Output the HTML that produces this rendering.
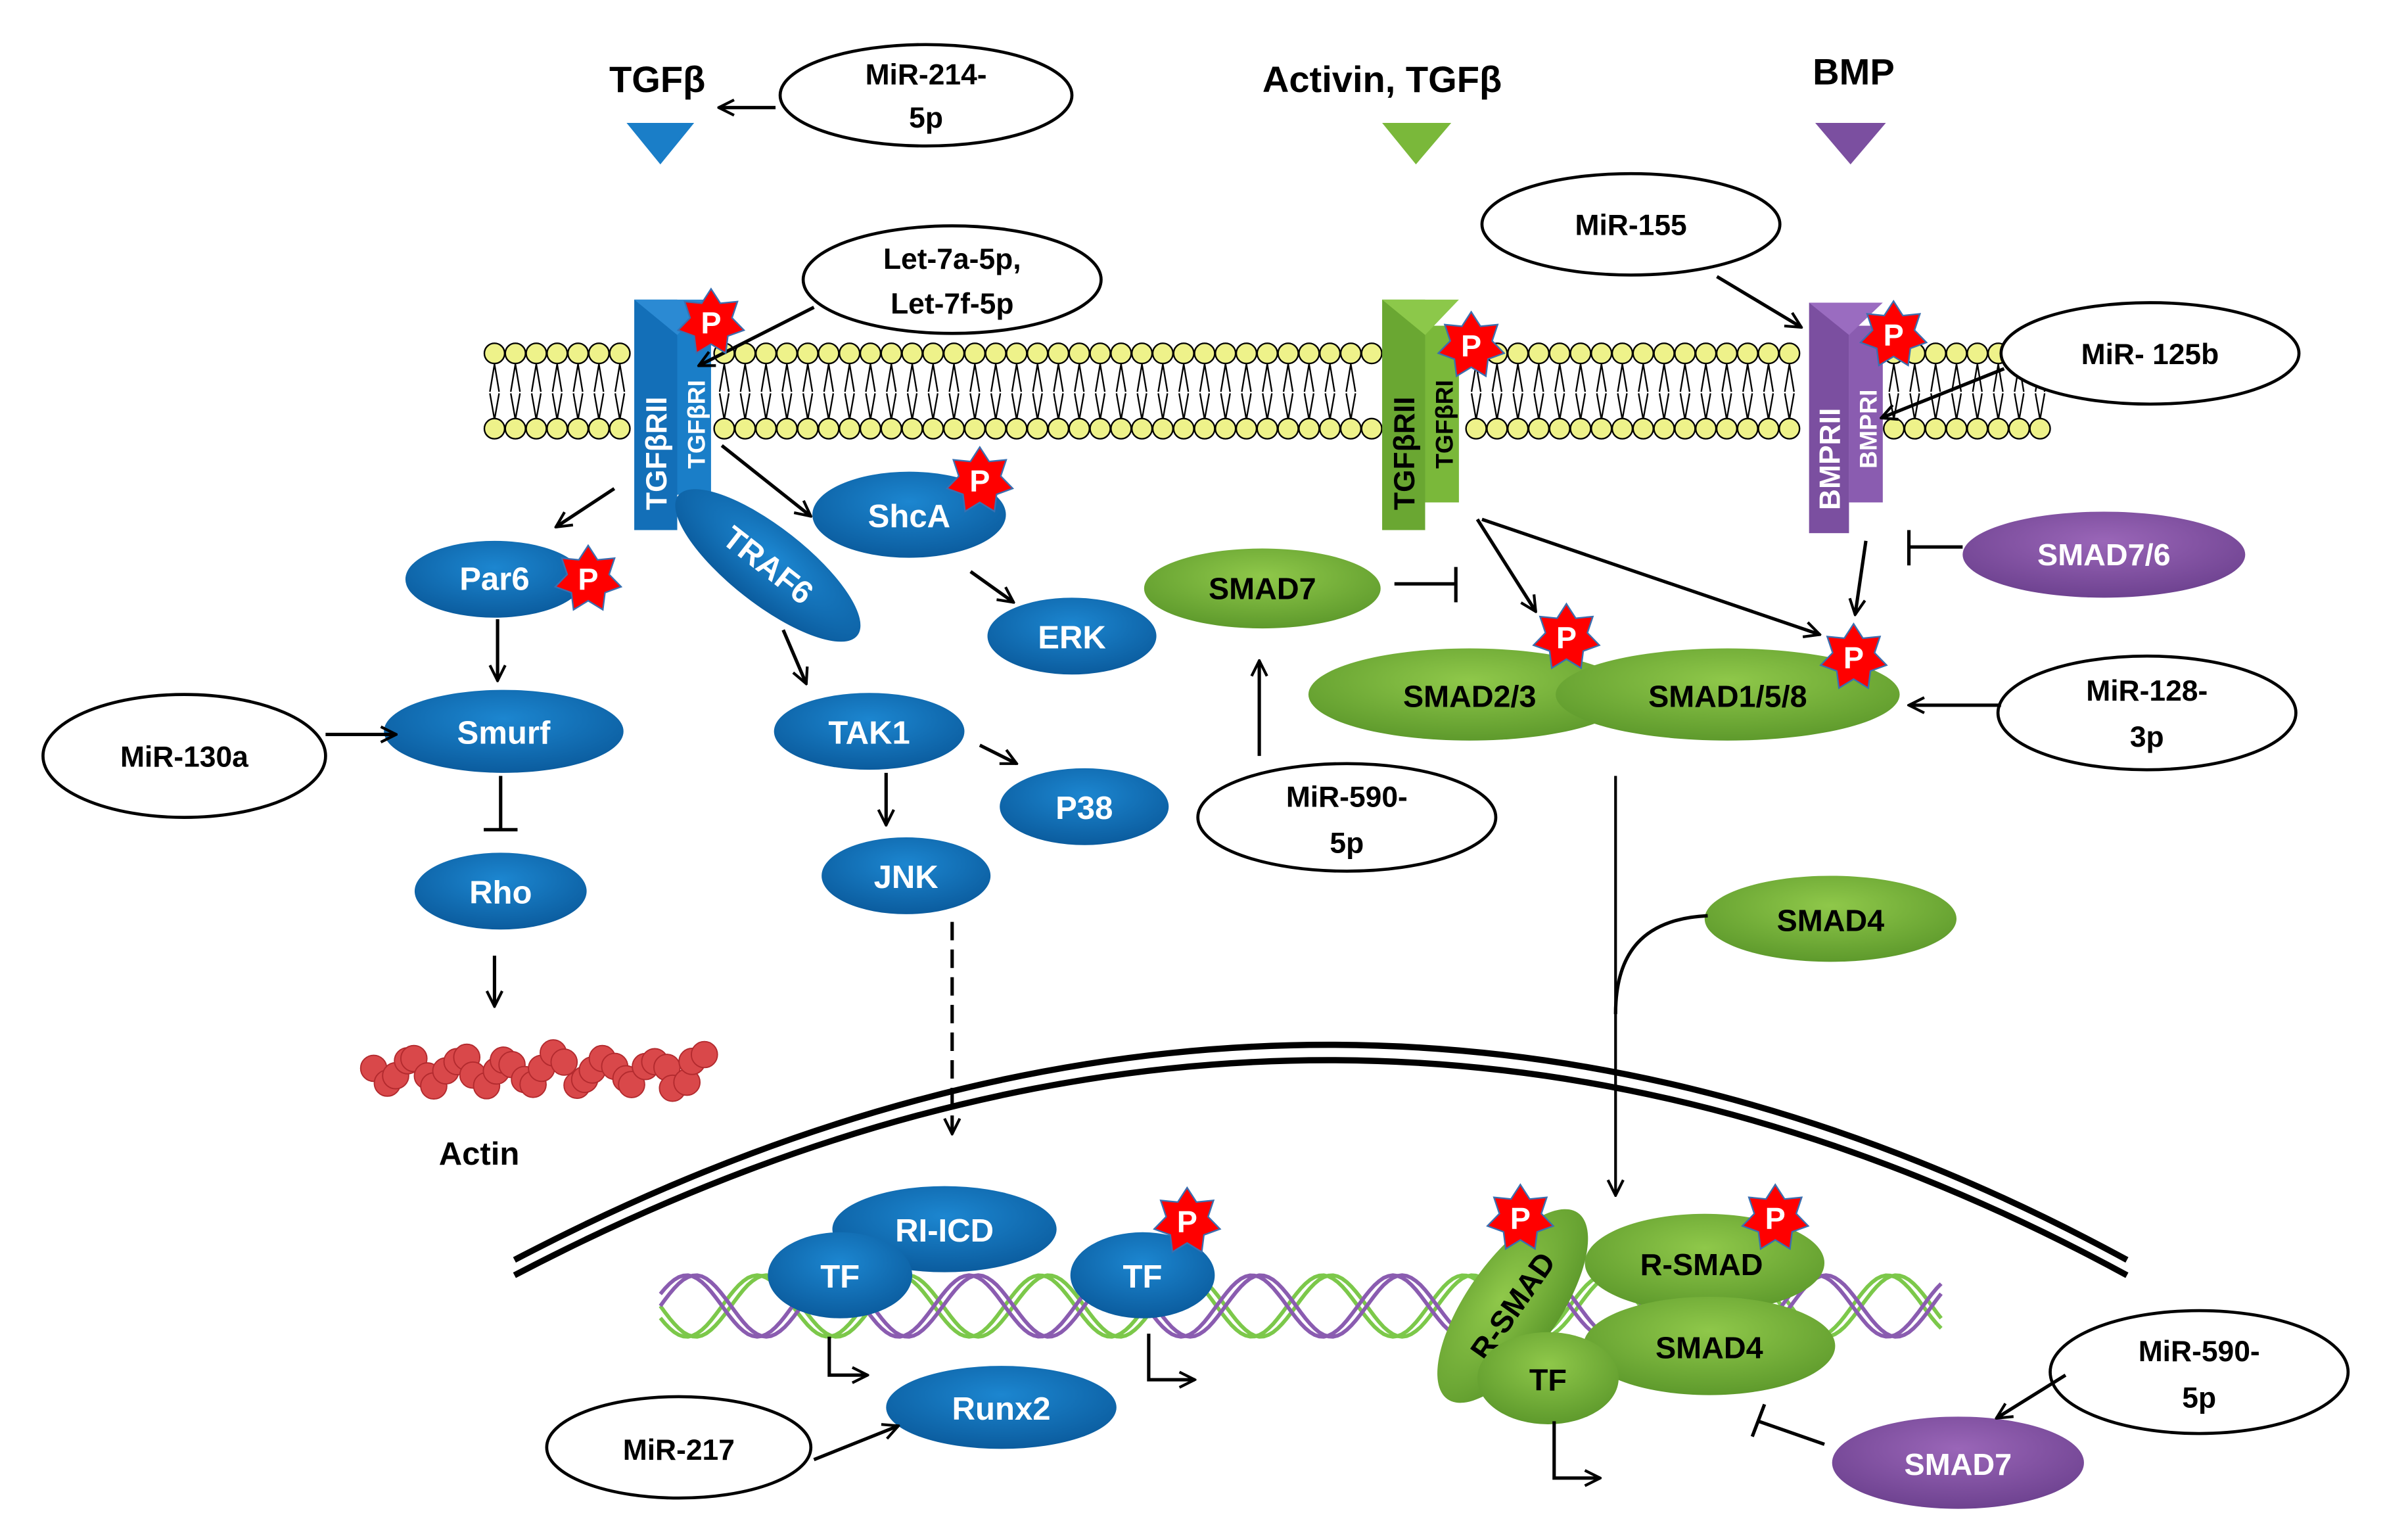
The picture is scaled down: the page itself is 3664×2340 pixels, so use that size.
<!DOCTYPE html>
<html><head><meta charset="utf-8"><style>
html,body{margin:0;padding:0;background:#fff;}
svg{display:block;}
text{font-family:"Liberation Sans",sans-serif;font-weight:bold;}
</style></head><body>
<svg id="s" xmlns="http://www.w3.org/2000/svg" width="3664" height="2340" viewBox="0 0 1568 1001" preserveAspectRatio="none">
<defs>
<radialGradient id="gb" cx="50%" cy="35%" r="65%"><stop offset="0" stop-color="#1c86d0"/><stop offset="1" stop-color="#0b5c9e"/></radialGradient>
<radialGradient id="gg" cx="50%" cy="35%" r="65%"><stop offset="0" stop-color="#8fc84a"/><stop offset="1" stop-color="#5e9a2c"/></radialGradient>
<radialGradient id="gp" cx="50%" cy="35%" r="65%"><stop offset="0" stop-color="#9a66b8"/><stop offset="1" stop-color="#6e4290"/></radialGradient>
<marker id="ar" viewBox="0 0 12 12" refX="11" refY="6" markerWidth="12" markerHeight="12" markerUnits="userSpaceOnUse" orient="auto"><path d="M1,1 L11,6 L1,11" fill="none" stroke="#000" stroke-width="1.8"/></marker>
<polygon id="star" points="0,-22 6.07,-12.62 17.2,-13.73 13.65,-3.12 21.45,4.9 10.94,8.73 9.54,19.82 0,14 -9.54,19.82 -10.94,8.73 -21.45,4.9 -13.65,-3.12 -17.2,-13.73 -6.07,-12.62" fill="#f00" stroke="#3a6fb0" stroke-width="1"/>
</defs>

<g font-size="24" fill="#000">
<text x="428" y="60" text-anchor="middle">TGFβ</text>
<text x="900" y="60" text-anchor="middle">Activin, TGFβ</text>
<text x="1207" y="55" text-anchor="middle">BMP</text>
</g>
<polygon points="408,80 452,80 430,107" fill="#1a7ec8"/>
<polygon points="900,80 945,80 922,107" fill="#7ab83a"/>
<polygon points="1182,80 1228,80 1205,107" fill="#7b4fa0"/>

<g id="mem"></g>

<path d="M335,820 Q870,540 1385,820" fill="none" stroke="#000" stroke-width="4"/>
<path d="M335,830 Q870,550 1385,830" fill="none" stroke="#000" stroke-width="4"/>
<g id="dna"></g>

<g>
<rect x="413" y="195" width="28" height="150" fill="#136fb8"/>
<rect x="441" y="212" width="22" height="110" fill="#1a7ec8"/>
<polygon points="413,195 463,195 441,218" fill="#2b8ad3"/>
<text transform="translate(434,332) rotate(-90)" font-size="19" fill="#fff">TGFβRII</text>
<text transform="translate(459,305) rotate(-90)" font-size="16" fill="#fff">TGFβRI</text>
<rect x="900" y="195" width="28" height="150" fill="#6aa732"/>
<rect x="928" y="212" width="22" height="115" fill="#7ab83a"/>
<polygon points="900,195 950,195 928,218" fill="#8cc84a"/>
<text transform="translate(921,332) rotate(-90)" font-size="19" fill="#000">TGFβRII</text>
<text transform="translate(946,305) rotate(-90)" font-size="16" fill="#000">TGFβRI</text>
<rect x="1178" y="197" width="26" height="150" fill="#7b4fa0"/>
<rect x="1204" y="212" width="22" height="115" fill="#8a5cb0"/>
<polygon points="1178,197 1226,197 1204,218" fill="#9a6cc0"/>
<text transform="translate(1198,332) rotate(-90)" font-size="19" fill="#fff">BMPRII</text>
<text transform="translate(1222,305) rotate(-90)" font-size="16" fill="#fff">BMPRI</text>
</g>

<g id="actin"></g>
<text x="312" y="758" font-size="21" text-anchor="middle">Actin</text>

<g font-size="21" fill="#fff" text-anchor="middle">
<ellipse cx="322" cy="377" rx="58" ry="25" fill="url(#gb)"/><text x="322" y="384" fill="#fff">Par6</text>
<ellipse cx="328" cy="476" rx="78" ry="27" fill="url(#gb)"/><text x="328" y="484" fill="#fff">Smurf</text>
<ellipse cx="326" cy="580" rx="56" ry="25" fill="url(#gb)"/><text x="326" y="588" fill="#fff">Rho</text>
<g transform="translate(500,368) rotate(38)"><ellipse rx="74" ry="25" fill="url(#gb)"/><text y="7" fill="#fff">TRAF6</text></g>
<ellipse cx="592" cy="335" rx="63" ry="28" fill="url(#gb)"/><text x="592" y="343" fill="#fff">ShcA</text>
<ellipse cx="698" cy="414" rx="55" ry="25" fill="url(#gb)"/><text x="698" y="422" fill="#fff">ERK</text>
<ellipse cx="566" cy="476" rx="62" ry="25" fill="url(#gb)"/><text x="566" y="484" fill="#fff">TAK1</text>
<ellipse cx="706" cy="525" rx="55" ry="25" fill="url(#gb)"/><text x="706" y="533" fill="#fff">P38</text>
<ellipse cx="590" cy="570" rx="55" ry="25" fill="url(#gb)"/><text x="590" y="578" fill="#fff">JNK</text>
<ellipse cx="615" cy="800" rx="73" ry="28" fill="url(#gb)"/><text x="615" y="808" fill="#fff">RI-ICD</text>
<ellipse cx="547" cy="830" rx="47" ry="28" fill="url(#gb)"/><text x="547" y="838" fill="#fff">TF</text>
<ellipse cx="744" cy="830" rx="47" ry="28" fill="url(#gb)"/><text x="744" y="838" fill="#fff">TF</text>
<ellipse cx="652" cy="916" rx="75" ry="27" fill="url(#gb)"/><text x="652" y="924" fill="#fff">Runx2</text>
</g>

<g font-size="20" fill="#000" text-anchor="middle">
<ellipse cx="822" cy="383" rx="77" ry="26" fill="url(#gg)"/><text x="822" y="390">SMAD7</text>
<ellipse cx="957" cy="452" rx="105" ry="30" fill="url(#gg)"/><text x="957" y="460">SMAD2/3</text>
<ellipse cx="1125" cy="452" rx="112" ry="30" fill="url(#gg)"/><text x="1125" y="460">SMAD1/5/8</text>
<ellipse cx="1192" cy="598" rx="82" ry="28" fill="url(#gg)"/><text x="1192" y="606">SMAD4</text>
<ellipse cx="1110" cy="822" rx="78" ry="32" fill="url(#gg)"/><text x="1108" y="830">R-SMAD</text>
<g transform="translate(985,850) rotate(-55)"><ellipse rx="74" ry="30" fill="url(#gg)"/><text y="7">R-SMAD</text></g>
<ellipse cx="1113" cy="876" rx="82" ry="32" fill="url(#gg)"/><text x="1113" y="884">SMAD4</text>
<ellipse cx="1008" cy="897" rx="46" ry="30" fill="url(#gg)"/><text x="1008" y="905">TF</text>
</g>
<g font-size="20" fill="#fff" text-anchor="middle">
<ellipse cx="1370" cy="361" rx="92" ry="28" fill="url(#gp)"/><text x="1370" y="368" fill="#fff">SMAD7/6</text>
<ellipse cx="1275" cy="952" rx="82" ry="30" fill="url(#gp)"/><text x="1275" y="960" fill="#fff">SMAD7</text>
</g>

<g fill="#fff" stroke="#000" stroke-width="2">
<ellipse cx="603" cy="62" rx="95" ry="33"/>
<ellipse cx="620" cy="182" rx="97" ry="35"/>
<ellipse cx="1062" cy="146" rx="97" ry="33"/>
<ellipse cx="1400" cy="230" rx="97" ry="33"/>
<ellipse cx="120" cy="492" rx="92" ry="40"/>
<ellipse cx="877" cy="532" rx="97" ry="35"/>
<ellipse cx="1398" cy="464" rx="97" ry="37"/>
<ellipse cx="442" cy="942" rx="86" ry="33"/>
<ellipse cx="1432" cy="893" rx="97" ry="40"/>
</g>
<g font-size="19" fill="#000" text-anchor="middle">
<text x="603" y="55">MiR-214-</text><text x="603" y="83">5p</text>
<text x="620" y="175">Let-7a-5p,</text><text x="620" y="204">Let-7f-5p</text>
<text x="1062" y="153">MiR-155</text>
<text x="1400" y="237">MiR- 125b</text>
<text x="120" y="499">MiR-130a</text>
<text x="877" y="525">MiR-590-</text><text x="877" y="555">5p</text>
<text x="1398" y="456">MiR-128-</text><text x="1398" y="486">3p</text>
<text x="442" y="950">MiR-217</text>
<text x="1432" y="886">MiR-590-</text><text x="1432" y="916">5p</text>
</g>

<g stroke="#000" stroke-width="2.2" fill="none" marker-end="url(#ar)">
<line x1="505" y1="70" x2="468" y2="70"/>
<line x1="530" y1="200" x2="455" y2="238"/>
<line x1="1118" y1="180" x2="1173" y2="213"/>
<line x1="1305" y1="240" x2="1225" y2="272"/>
<line x1="400" y1="318" x2="362" y2="343"/>
<line x1="470" y1="290" x2="528" y2="336"/>
<line x1="324" y1="403" x2="324" y2="443"/>
<line x1="212" y1="478" x2="258" y2="478"/>
<line x1="322" y1="622" x2="322" y2="655"/>
<line x1="510" y1="410" x2="525" y2="445"/>
<line x1="632" y1="372" x2="660" y2="392"/>
<line x1="638" y1="485" x2="662" y2="497"/>
<line x1="577" y1="503" x2="577" y2="537"/>
<line x1="620" y1="600" x2="620" y2="738" stroke-dasharray="12,6"/>
<line x1="962" y1="338" x2="1000" y2="398"/>
<line x1="965" y1="338" x2="1185" y2="413"/>
<line x1="820" y1="492" x2="820" y2="430"/>
<line x1="1215" y1="352" x2="1208" y2="400"/>
<line x1="1303" y1="459" x2="1243" y2="459"/>
<line x1="1052" y1="505" x2="1052" y2="778" stroke-width="1.8"/>
<path d="M540,870 V895 H565"/>
<path d="M748,868 V898 H778"/>
<path d="M1012,925 V962 H1042"/>
<line x1="530" y1="950" x2="585" y2="928"/>
<line x1="1345" y1="895" x2="1300" y2="923"/>
</g>
<g stroke="#000" stroke-width="2.2" fill="none">
<path d="M1112,596 C1070,598 1052,620 1052,660"/>
<line x1="326" y1="505" x2="326" y2="540"/><line x1="315" y1="540" x2="337" y2="540"/>
<line x1="908" y1="380" x2="948" y2="380"/><line x1="948" y1="369" x2="948" y2="392"/>
<line x1="1278" y1="356" x2="1243" y2="356"/><line x1="1243" y1="345" x2="1243" y2="368"/>
<line x1="1188" y1="940" x2="1145" y2="925"/><line x1="1141" y1="935" x2="1149" y2="914"/>
</g>

<g font-size="20" fill="#fff" text-anchor="middle">
<use href="#star" x="463" y="210"/><text x="463" y="217" fill="#fff">P</text>
<use href="#star" x="958" y="225"/><text x="958" y="232" fill="#fff">P</text>
<use href="#star" x="1233" y="218"/><text x="1233" y="225" fill="#fff">P</text>
<use href="#star" x="638" y="313"/><text x="638" y="320" fill="#fff">P</text>
<use href="#star" x="383" y="377"/><text x="383" y="384" fill="#fff">P</text>
<use href="#star" x="1020" y="415"/><text x="1020" y="422" fill="#fff">P</text>
<use href="#star" x="1207" y="428"/><text x="1207" y="435" fill="#fff">P</text>
<use href="#star" x="773" y="795"/><text x="773" y="802" fill="#fff">P</text>
<use href="#star" x="990" y="793"/><text x="990" y="800" fill="#fff">P</text>
<use href="#star" x="1156" y="793"/><text x="1156" y="800" fill="#fff">P</text>
</g>

<script>
(function(){
var NS="http://www.w3.org/2000/svg";
function el(p,t,a){var e=document.createElementNS(NS,t);for(var k in a)e.setAttribute(k,a[k]);p.appendChild(e);return e;}
var mem=document.getElementById("mem");
var d="";
for(var x=322;x<=1330;x+=13.6){
 if((x>405&&x<468)||(x>893&&x<955)||(x>1172&&x<1230))continue;
 d+="M"+(x-3)+",255 L"+x+",237 L"+(x+3)+",255 M"+(x-3)+",256 L"+x+",273 L"+(x+3)+",256 ";
}
el(mem,"path",{d:d,stroke:"#000","stroke-width":"1",fill:"none"});
for(var x=322;x<=1330;x+=13.6){
 if((x>412&&x<462)||(x>899&&x<949)||(x>1177&&x<1225))continue;
 el(mem,"circle",{cx:x,cy:230,r:6.6,fill:"#eef28a",stroke:"#000","stroke-width":"1"});
 el(mem,"circle",{cx:x,cy:279,r:6.6,fill:"#eef28a",stroke:"#000","stroke-width":"1"});
}
var dna=document.getElementById("dna");
function wave(ph,col){var s="";for(var x=430;x<=1265;x+=3){var y=850+20*Math.sin((x-430)/92*2*Math.PI+ph);s+=(s?"L":"M")+x+","+y.toFixed(1);}el(dna,"path",{d:s,stroke:col,"stroke-width":"2.5",fill:"none"});}
wave(0,"#7cc84a");wave(0.4,"#7cc84a");wave(Math.PI,"#8a5cb0");wave(Math.PI+0.4,"#8a5cb0");
var act=document.getElementById("actin");
var seed=3;function r(){seed=(seed*9301+49297)%233280;return seed/233280;}
for(var i=0;i<34;i++){var x=242+i*6.5+ r()*4; var y=697+Math.sin(i*1.3)*9+(r()-0.5)*6;
 el(act,"circle",{cx:x,cy:y,r:8.5,fill:"#d9484a",stroke:"#b22a2e","stroke-width":"0.8"});}
})();
</script>
</svg>
</body></html>
